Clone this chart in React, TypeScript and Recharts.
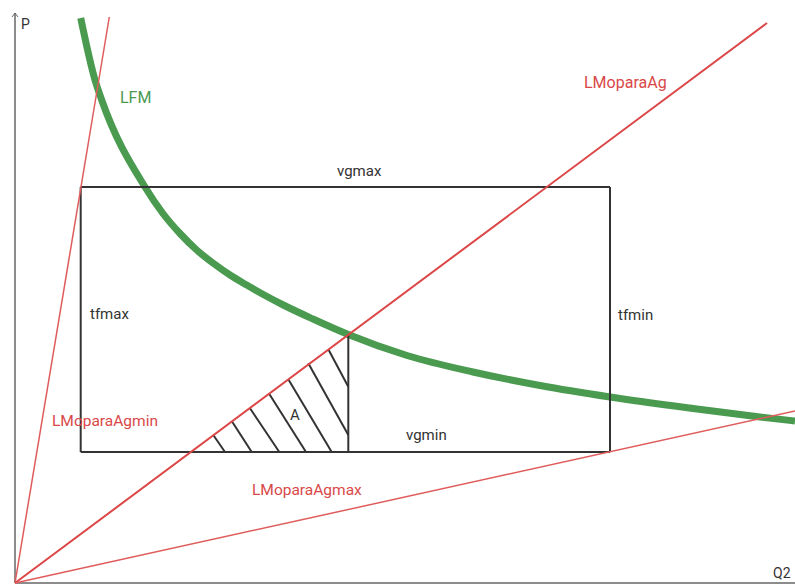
import React from 'react';
import {
    ComposedChart,
    Line,
    XAxis,
    YAxis,
    ReferenceLine,
    ReferenceDot,
} from 'recharts';

// LFM curve, read point by point (Q2, P)
const lfmPoints = [
    { x: 6.57, y: 56.5 },
    { x: 8.0, y: 50.3 },
    { x: 8.67, y: 48.3 },
    { x: 13.0, y: 39.6 },
    { x: 14.83, y: 36.9 },
    { x: 16.5, y: 34.95 },
    { x: 18.17, y: 33.3 },
    { x: 19.83, y: 31.97 },
    { x: 21.5, y: 30.8 },
    { x: 23.17, y: 29.8 },
    { x: 24.83, y: 28.85 },
    { x: 26.83, y: 27.8 },
    { x: 29.8, y: 26.4 },
    { x: 33.33, y: 24.85 },
    { x: 39.2, y: 22.75 },
    { x: 45.8, y: 21.1 },
    { x: 52.5, y: 19.75 },
    { x: 59.5, y: 18.6 },
    { x: 67.8, y: 17.45 },
    { x: 74.5, y: 16.6 },
    { x: 78.0, y: 16.2 },
];

// rays from the origin
const agMinLine = [{ x: 0, y: 0 }, { x: 9.43, y: 56.6 }];
const agLine = [{ x: 0, y: 0 }, { x: 75.2, y: 56.0 }];
const agMaxLine = [{ x: 0, y: 0 }, { x: 78.0, y: 17.2 }];

// box limits
const tfMax = 6.57;
const tfMin = 59.5;
const vgMin = 13.1;
const vgMax = 39.6;
const qCut = 33.33;
const qCutTop = 24.83;

// hatch strokes inside area A: [from, to]
const hatchLines = [
    [{ x: 19.83, y: 14.8 }, { x: 21.0, y: 13.1 }],
    [{ x: 21.67, y: 16.2 }, { x: 23.67, y: 13.1 }],
    [{ x: 23.5, y: 17.47 }, { x: 26.43, y: 13.1 }],
    [{ x: 25.43, y: 18.9 }, { x: 29.1, y: 13.1 }],
    [{ x: 27.33, y: 20.37 }, { x: 31.67, y: 13.1 }],
    [{ x: 29.33, y: 21.97 }, { x: 33.33, y: 14.8 }],
    [{ x: 31.33, y: 23.37 }, { x: 33.33, y: 19.63 }],
];

const RED = '#e05c5c';
const RED_DARK = '#dc4646';
const RED_TEXT = '#d94848';
const GREEN = '#4a9a50';
const INK = '#333';

const labels = [
    { text: 'P', x: 0.6, y: 55.4, color: INK, size: 14 },
    { text: 'Q2', x: 75.8, y: 0.5, color: INK, size: 14 },
    { text: 'LFM', x: 10.5, y: 48.0, color: GREEN, size: 16 },
    { text: 'LMoparaAg', x: 56.9, y: 49.5, color: RED_TEXT, size: 16 },
    { text: 'vgmax', x: 32.2, y: 40.7, color: INK, size: 15 },
    { text: 'tfmax', x: 7.5, y: 26.4, color: INK, size: 15 },
    { text: 'tfmin', x: 60.3, y: 26.3, color: INK, size: 15 },
    { text: 'A', x: 27.5, y: 16.3, color: INK, size: 15 },
    { text: 'vgmin', x: 39.1, y: 14.3, color: INK, size: 15 },
    { text: 'LMoparaAgmin', x: 3.7, y: 15.7, color: RED_TEXT, size: 15.5 },
    { text: 'LMoparaAgmax', x: 23.7, y: 8.8, color: RED_TEXT, size: 15.5 },
];

const seg = (a: { x: number; y: number }, b: { x: number; y: number }) => [a, b] as any;

export default function App() {
    return (
        <div style={{ position: 'absolute', left: 0, top: 0, fontFamily: 'Roboto, sans-serif' }}>
            <ComposedChart
                width={795}
                height={587}
                margin={{ top: 13, right: 0, left: 0, bottom: 0 }}
            >
                <XAxis type="number" dataKey="x" domain={[-1.5, 78]} hide allowDataOverflow />
                <YAxis type="number" dataKey="y" domain={[-0.4, 57]} hide allowDataOverflow />

                {/* axes */}
                <ReferenceLine segment={seg({ x: 0, y: 0 }, { x: 78, y: 0 })} stroke="#666" strokeWidth={1.5} />
                <ReferenceLine segment={seg({ x: 0, y: 0 }, { x: 0, y: 57 })} stroke="#666" strokeWidth={1.5} />
                <ReferenceLine segment={seg({ x: -0.3, y: 56.6 }, { x: 0, y: 57 })} stroke="#666" strokeWidth={1} />
                <ReferenceLine segment={seg({ x: 0, y: 57 }, { x: 0.3, y: 56.6 })} stroke="#666" strokeWidth={1} />

                <Line
                    data={lfmPoints}
                    dataKey="y"
                    type="monotone"
                    stroke={GREEN}
                    strokeWidth={7}
                    dot={false}
                    isAnimationActive={false}
                />

                {/* box */}
                <ReferenceLine segment={seg({ x: tfMax, y: vgMax }, { x: tfMin, y: vgMax })} stroke={INK} strokeWidth={2} />
                <ReferenceLine segment={seg({ x: tfMax, y: vgMin }, { x: tfMin, y: vgMin })} stroke={INK} strokeWidth={2} />
                <ReferenceLine segment={seg({ x: tfMax, y: vgMin }, { x: tfMax, y: vgMax })} stroke={INK} strokeWidth={2} />
                <ReferenceLine segment={seg({ x: tfMin, y: vgMin }, { x: tfMin, y: vgMax })} stroke={INK} strokeWidth={2} />
                <ReferenceLine segment={seg({ x: qCut, y: vgMin }, { x: qCut, y: qCutTop })} stroke={INK} strokeWidth={2} />
                {hatchLines.map((h, i) => (
                    <ReferenceLine key={`h-${i}`} segment={seg(h[0], h[1])} stroke={INK} strokeWidth={2} />
                ))}

                <Line data={agMinLine} dataKey="y" type="linear" stroke={RED} strokeWidth={1.5} dot={false} isAnimationActive={false} />
                <Line data={agLine} dataKey="y" type="linear" stroke={RED_DARK} strokeWidth={2} dot={false} isAnimationActive={false} />
                <Line data={agMaxLine} dataKey="y" type="linear" stroke={RED} strokeWidth={1.5} dot={false} isAnimationActive={false} />

                {labels.map((l) => (
                    <ReferenceDot
                        key={l.text}
                        x={l.x}
                        y={l.y}
                        r={0}
                        shape={(p: any) => (
                            <text x={p.cx} y={p.cy} fill={l.color} fontSize={l.size} fontFamily="Roboto, sans-serif">
                                {l.text}
                            </text>
                        )}
                    />
                ))}
            </ComposedChart>
        </div>
    );
}
